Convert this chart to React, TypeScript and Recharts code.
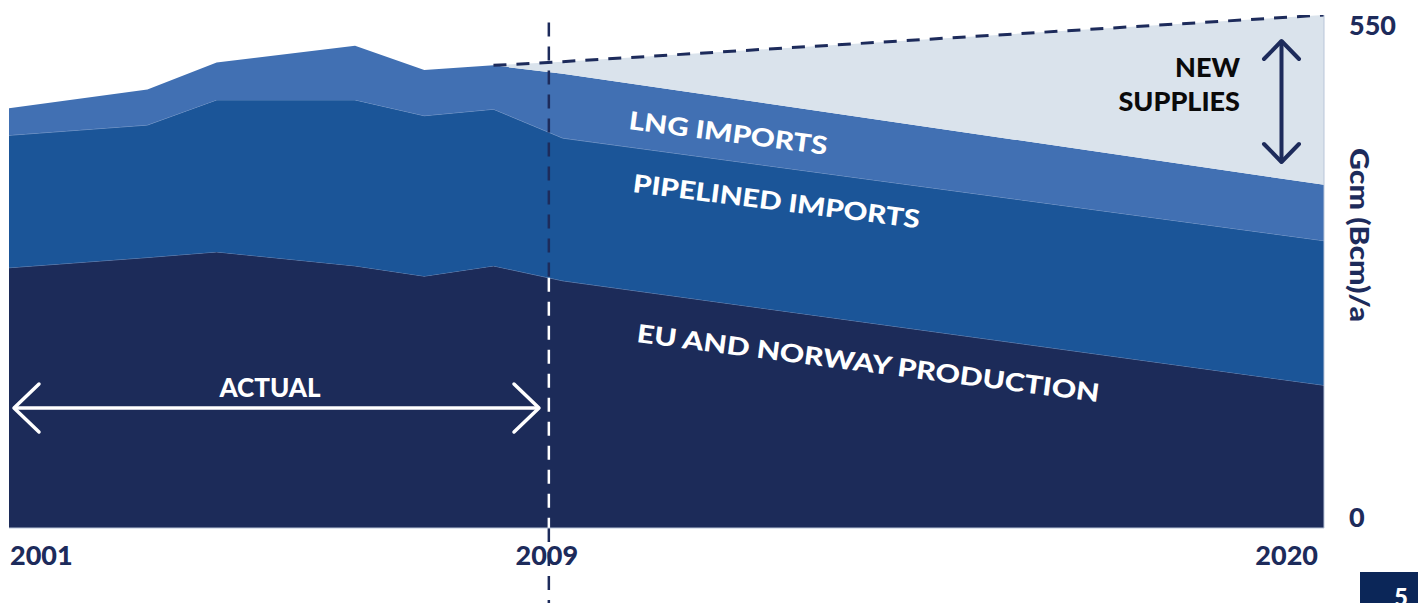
import React from 'react';
import { ComposedChart, Area, Line, XAxis, YAxis, ReferenceLine, Label } from 'recharts';

// ---- data (Gcm/a) ----
const YEARS = [2001, 2003, 2004, 2006, 2007, 2008, 2009, 2020];
const EU_NORWAY = [279, 290, 296, 281, 270, 281, 265, 153];
const PIPELINED = [142, 142, 163, 178, 172, 168, 153, 155];
const LNG_IMPORTS = [29, 38, 40, 58, 49, 47, 69, 60];
const TOTAL_DEMAND: (number | null)[] = [null, null, null, null, null, 496, 500, 550];

const X_TICKS = [2001, 2008.8, 2020];
const X_TICK_LABELS = ['2001', '2009', '2020'];
const Y_TICKS = [0, 550];
const Y_LABEL = 'Gcm (Bcm)/a';
const DIVIDER_YEAR = 2008.8;

const C_EU = '#1c2b59';
const C_PIPE = '#1b5598';
const C_LNG = '#4170b3';
const C_NEW = '#dae3ec';
const C_TEXT = '#1d2b5b';
const FONT = 'Lato, "Open Sans", sans-serif';
const W = 900;

const data = YEARS.map((year, i) => {
  const base = EU_NORWAY[i] + PIPELINED[i] + LNG_IMPORTS[i];
  const total = TOTAL_DEMAND[i];
  return {
    year,
    eu: EU_NORWAY[i],
    pipe: PIPELINED[i],
    lng: LNG_IMPORTS[i],
    newSup: total != null ? Math.max(0, total - base) : 0,
    total,
  };
});

// EU level at the divider (for the white part of the dashed marker)
const i08 = YEARS.indexOf(2008);
const i09 = YEARS.indexOf(2009);
const euAtDivider =
  EU_NORWAY[i08] + (EU_NORWAY[i09] - EU_NORWAY[i08]) * ((DIVIDER_YEAR - 2008) / (2009 - 2008));

const XTick = (props: any) => {
  const { x, y, payload } = props;
  const idx = X_TICKS.indexOf(payload.value);
  const anchor = idx === 0 ? 'start' : idx === 2 ? 'end' : 'middle';
  const dx = idx === 0 ? 1 : idx === 2 ? -6 : -2;
  return (
    <text x={x + dx} y={y + 35} textAnchor={anchor} fill={C_TEXT} fontSize={27} fontWeight={W} fontFamily={FONT}>
      {X_TICK_LABELS[idx]}
    </text>
  );
};

const YTick = (props: any) => {
  const { x, y, payload } = props;
  const dy = payload.value === 0 ? -1 : 20;
  return (
    <text x={x + 23} y={y + dy} textAnchor="start" fill={C_TEXT} fontSize={27} fontWeight={W} fontFamily={FONT}>
      {payload.value}
    </text>
  );
};

const Annotations = () => (
  <svg
    width={1418}
    height={603}
    style={{ position: 'absolute', left: 0, top: 0, pointerEvents: 'none' }}
  >
    {/* series labels */}
    <text transform="translate(628,129) rotate(7.4)" fill="#fff" fontSize={25} fontWeight={W} fontFamily={FONT} textLength={200} lengthAdjust="spacingAndGlyphs">
      LNG IMPORTS
    </text>
    <text transform="translate(632,192) rotate(7.2)" fill="#fff" fontSize={25} fontWeight={W} fontFamily={FONT} textLength={289} lengthAdjust="spacingAndGlyphs">
      PIPELINED IMPORTS
    </text>
    <text transform="translate(636,342) rotate(7.4)" fill="#fff" fontSize={25} fontWeight={W} fontFamily={FONT} textLength={466} lengthAdjust="spacingAndGlyphs">
      EU AND NORWAY PRODUCTION
    </text>
    <text x={1240} y={77} textAnchor="end" fill="#0a0a0a" fontSize={27} fontWeight={W} fontFamily={FONT}>
      NEW
    </text>
    <text x={1240} y={111} textAnchor="end" fill="#0a0a0a" fontSize={27} fontWeight={W} fontFamily={FONT}>
      SUPPLIES
    </text>
    {/* new supplies double arrow */}
    <g stroke={C_TEXT} strokeWidth={4} strokeLinecap="round" strokeLinejoin="round" fill="none">
      <line x1={1281.5} y1={42} x2={1281.5} y2={161} />
      <polyline points="1264,59 1281.5,41 1299,59" />
      <polyline points="1264,144 1281.5,162 1299,144" />
    </g>
    {/* actual */}
    <text x={270} y={397} textAnchor="middle" fill="#fff" fontSize={26} fontWeight={W} fontFamily={FONT}>
      ACTUAL
    </text>
    <g stroke="#fff" strokeWidth={3.5} strokeLinecap="round" strokeLinejoin="round" fill="none">
      <line x1={15} y1={408} x2={538} y2={408} />
      <polyline points="39,384 14,408 39,432" />
      <polyline points="514,384 539,408 514,432" />
    </g>
    {/* page badge */}
    <rect x={1360} y={572} width={58} height={31} fill="#0b2658" />
    <text x={1394} y={606} fill="#fff" fontSize={24} fontWeight={W} fontFamily={FONT}>
      5
    </text>
  </svg>
);

export default function App() {
  return (
    <div style={{ position: 'absolute', left: 0, top: 0, width: 1418, height: 603, background: '#fff' }}>
      <ComposedChart width={1418} height={603} data={data} margin={{ top: 15, right: 0, bottom: 0, left: 9 }}>
        <XAxis
          type="number"
          dataKey="year"
          domain={[2001, 2020]}
          ticks={X_TICKS}
          interval={0}
          tick={<XTick />}
          tickLine={false}
          tickSize={0}
          axisLine={{ stroke: '#b9c5d9', strokeWidth: 1 }}
          height={75}
          allowDataOverflow
        />
        <YAxis
          orientation="right"
          type="number"
          domain={[0, 550]}
          ticks={Y_TICKS}
          interval={0}
          tick={<YTick />}
          tickLine={false}
          tickSize={0}
          axisLine={{ stroke: '#b9c5d9', strokeWidth: 1 }}
          width={94}
          allowDataOverflow
        >
          <Label
            content={(p: any) => {
              const vb = p.viewBox || { x: 1324 };
              return (
                <text
                  transform={`translate(${vb.x + 26},235) rotate(90)`}
                  textAnchor="middle"
                  fill={C_TEXT}
                  fontSize={27}
                  fontWeight={W}
                  fontFamily={FONT}
                  textLength={174}
                  lengthAdjust="spacingAndGlyphs"
                >
                  {Y_LABEL}
                </text>
              );
            }}
          />
        </YAxis>
        <Area type="linear" dataKey="eu" stackId="s" fill={C_EU} fillOpacity={1} stroke="#6f89b8" strokeWidth={0.8} isAnimationActive={false} />
        <Area type="linear" dataKey="pipe" stackId="s" fill={C_PIPE} fillOpacity={1} stroke="#7f9dcc" strokeWidth={0.8} isAnimationActive={false} />
        <Area type="linear" dataKey="lng" stackId="s" fill={C_LNG} fillOpacity={1} stroke="none" isAnimationActive={false} />
        <Area type="linear" dataKey="newSup" stackId="s" fill={C_NEW} fillOpacity={1} stroke="none" isAnimationActive={false} />
        <Line type="linear" dataKey="total" stroke={C_TEXT} strokeWidth={3} strokeDasharray="13 10" dot={false} connectNulls isAnimationActive={false} />
        <ReferenceLine
          segment={[{ x: DIVIDER_YEAR, y: 542 }, { x: DIVIDER_YEAR, y: euAtDivider }]}
          stroke={C_TEXT}
          strokeWidth={2.5}
          strokeDasharray="14 10"
          ifOverflow="visible"
        />
        <ReferenceLine
          segment={[{ x: DIVIDER_YEAR, y: euAtDivider }, { x: DIVIDER_YEAR, y: 0 }]}
          stroke="#ffffff"
          strokeWidth={2.5}
          strokeDasharray="14 10"
          ifOverflow="visible"
        />
        <ReferenceLine
          segment={[{ x: DIVIDER_YEAR, y: 0 }, { x: DIVIDER_YEAR, y: -85 }]}
          stroke={C_TEXT}
          strokeWidth={2.5}
          strokeDasharray="14 10"
          ifOverflow="visible"
        />
      </ComposedChart>
      <Annotations />
    </div>
  );
}
